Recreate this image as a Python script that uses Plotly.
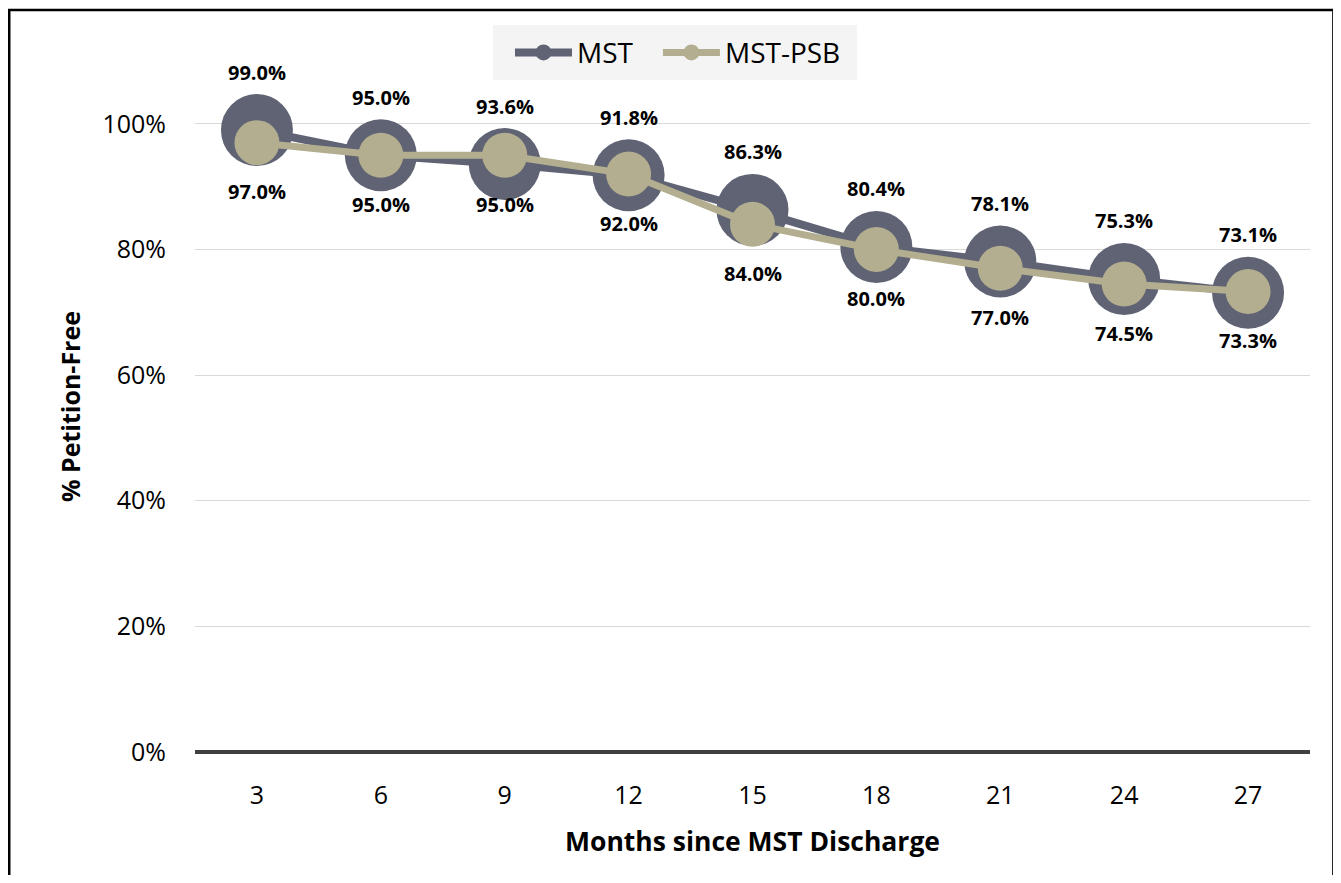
import plotly.graph_objects as go

# months since discharge (x categories)
months = ["3", "6", "9", "12", "15", "18", "21", "24", "27"]
# share of youth petition-free
mst = [0.990, 0.950, 0.936, 0.918, 0.863, 0.804, 0.781, 0.753, 0.731]
mst_psb = [0.970, 0.950, 0.950, 0.920, 0.840, 0.800, 0.770, 0.745, 0.733]
y_ticks = [0, 0.2, 0.4, 0.6, 0.8, 1.0]

cor_mst = "#5f6374"
cor_psb = "#b3ae8f"
fonte = "Open Sans"

fig = go.Figure()

fig.add_trace(go.Scatter(
    x=months, y=mst, name="MST", mode="lines+markers",
    line={"color": cor_mst, "width": 8},
    marker={"color": cor_mst, "size": 72},
    legend="legend",
))
fig.add_trace(go.Scatter(
    x=months, y=mst_psb, name="MST-PSB", mode="lines+markers",
    line={"color": cor_psb, "width": 7},
    marker={"color": cor_psb, "size": 45},
    legend="legend2",
))

# rotulos de dados: MST acima, MST-PSB abaixo (x pelo indice da categoria)
rotulo = {"family": fonte, "size": 20, "color": "black", "weight": "bold"}
for i, v in enumerate(mst):
    fig.add_annotation(x=i, y=v, text=f"{v*100:.1f}%", showarrow=False,
                       yanchor="middle", yshift=58, font=rotulo)
for i, v in enumerate(mst_psb):
    fig.add_annotation(x=i, y=v, text=f"{v*100:.1f}%", showarrow=False,
                       yanchor="middle", yshift=-49, font=rotulo)

# moldura do grafico
fig.add_shape(type="rect", xref="paper", yref="paper",
              x0=-0.1666, x1=1.021, y0=-0.3, y1=1.0738,
              line={"color": "black", "width": 2.5}, layer="above")
# fundo da legenda
fig.add_shape(type="rect", xref="paper", yref="paper",
              x0=0.2673, x1=0.5937, y0=0.9725, y1=1.052,
              fillcolor="#f4f4f4", line={"width": 0}, layer="below")

leg = {
    "orientation": "h", "xanchor": "left", "y": 1.012, "yanchor": "middle",
    "bgcolor": "rgba(0,0,0,0)", "font": {"size": 28, "family": fonte},
    "itemwidth": 57,
}

# a pagina tem 8px de margem no body, por isso 1333x867
fig.update_layout(
    width=1333, height=867,
    margin={"l": 187, "r": 31, "t": 53, "b": 123, "autoexpand": False},
    paper_bgcolor="white", plot_bgcolor="white",
    font={"family": fonte, "color": "black"},
    showlegend=True,
    legend={**leg, "x": 0.2825},
    legend2={**leg, "x": 0.4152},
    xaxis={
        "type": "category", "range": [-0.5, 8.5],
        "showgrid": False, "showline": False, "zeroline": False,
        "tickfont": {"size": 25}, "ticklabelstandoff": 26,
        "title": {"text": "Months since MST Discharge", "standoff": 22,
                  "font": {"size": 26.5, "weight": "bold"}},
    },
    yaxis={
        "range": [0, 1.1], "tickvals": y_ticks, "tickformat": ".0%",
        "showgrid": True, "gridcolor": "#d9d9d9", "gridwidth": 1,
        "zeroline": True, "zerolinecolor": "#404040", "zerolinewidth": 4,
        "showline": False,
        "tickfont": {"size": 25}, "ticklabelstandoff": 28,
        "title": {"text": "% Petition-Free", "standoff": 14,
                  "font": {"size": 25, "weight": "bold"}},
    },
)

fig.write_html("out.html")
